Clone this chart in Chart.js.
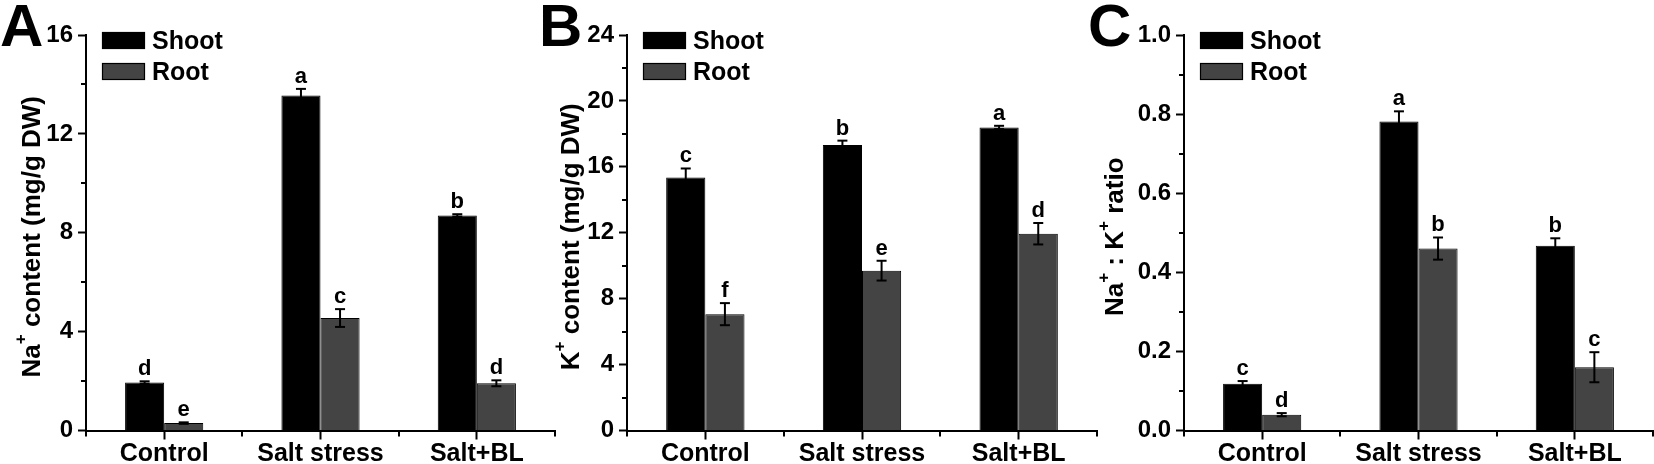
<!DOCTYPE html>
<html>
<head>
<meta charset="utf-8">
<script src="https://cdn.jsdelivr.net/npm/chart.js@4.4.1/dist/chart.umd.min.js"></script>
<style>
html,body{margin:0;padding:0;background:#fff;}
body{width:1654px;height:464px;position:relative;overflow:hidden;}
canvas{position:absolute;top:0;}
.plabel{position:absolute;font-family:"Liberation Sans",Arial,sans-serif;font-weight:bold;font-size:60px;line-height:1;color:#000;}
</style>
</head>
<body>
<div class="plabel" style="left:0px;top:-4px">A</div>
<div class="plabel" style="left:539px;top:-4px">B</div>
<div class="plabel" style="left:1088px;top:-4px">C</div>
<canvas id="cA" width="560" height="464" style="left:0px"></canvas>
<canvas id="cB" width="562" height="464" style="left:540px"></canvas>
<canvas id="cC" width="564" height="464" style="left:1090px"></canvas>
<script>
// ---------------- DATA ----------------
const categories = ['Control', 'Salt stress', 'Salt+BL'];
const seriesNames = ['Shoot', 'Root'];

// Panel A: Na+ content (mg/g DW)
const naShoot = [1.94, 13.55, 8.70];
const naShootErr = [0.05, 0.27, 0.05];
const naRoot = [0.30, 4.55, 1.91];
const naRootErr = [0.03, 0.36, 0.12];
const naShootLetters = ['d', 'a', 'b'];
const naRootLetters = ['e', 'c', 'd'];
const naTicks = [0, 4, 8, 12, 16];

// Panel B: K+ content (mg/g DW)
const kShoot = [15.35, 17.32, 18.39];
const kShootErr = [0.55, 0.27, 0.10];
const kRoot = [7.06, 9.70, 11.94];
const kRootErr = [0.67, 0.60, 0.65];
const kShootLetters = ['c', 'b', 'a'];
const kRootLetters = ['f', 'e', 'd'];
const kTicks = [0, 4, 8, 12, 16, 20, 24];

// Panel C: Na+ : K+ ratio
const ratioShoot = [0.118, 0.781, 0.467];
const ratioShootErr = [0.007, 0.026, 0.019];
const ratioRoot = [0.040, 0.460, 0.160];
const ratioRootErr = [0.004, 0.028, 0.038];
const ratioShootLetters = ['c', 'a', 'b'];
const ratioRootLetters = ['d', 'b', 'c'];
const ratioTicks = [0.0, 0.2, 0.4, 0.6, 0.8, 1.0];

// Axis titles (segments; sup = superscript)
const titleA = [{t:'Na'},{t:'+',sup:true},{t:' content (mg/g DW)'}];
const titleB = [{t:'K'},{t:'+',sup:true},{t:' content (mg/g DW)'}];
const titleC = [{t:'Na'},{t:'+',sup:true},{t:' : K'},{t:'+',sup:true},{t:' ratio'}];

// ---------------- STYLE / DRAW ----------------
const FONT = '"Liberation Sans", Arial, Helvetica, sans-serif';
const SHOOT_COLOR = '#000000';
const ROOT_COLOR = '#444444';

const decor = {
  id: 'decor',
  afterDraw(chart) {
    const o = chart.options.plugins.decor;
    const ctx = chart.ctx;
    const xs = chart.scales.x, ys = chart.scales.y;
    const area = chart.chartArea;
    ctx.save();
    ctx.strokeStyle = '#000';
    ctx.fillStyle = '#000';
    ctx.lineWidth = 2;
    ctx.lineCap = 'butt';
    const line = (x1,y1,x2,y2) => { ctx.beginPath(); ctx.moveTo(x1,y1); ctx.lineTo(x2,y2); ctx.stroke(); };

    // minor y ticks
    const tv = ys.ticks.map(t => t.value);
    for (let i = 0; i < tv.length - 1; i++) {
      const py = Math.round(ys.getPixelForValue((tv[i] + tv[i+1]) / 2));
      line(area.left - 5, py, area.left, py);
    }
    // x ticks at category boundaries
    const n = chart.data.labels.length;
    for (let i = 0; i <= n; i++) {
      const px = Math.round(xs.getPixelForValue(i - 0.5));
      line(px, area.bottom, px, area.bottom + 6);
    }

    // error bars + significance letters
    ctx.font = 'bold 22px ' + FONT;
    ctx.textAlign = 'center';
    ctx.textBaseline = 'alphabetic';
    chart.data.datasets.forEach((ds, di) => {
      const meta = chart.getDatasetMeta(di);
      meta.data.forEach((bar, i) => {
        const v = ds.data[i], e = ds.errors[i];
        const yt = ys.getPixelForValue(v + e);
        const yb = ys.getPixelForValue(v - e);
        const bx = bar.x;
        ctx.lineWidth = 2;
        line(bx, yt, bx, yb);
        line(bx - 5, yt, bx + 5, yt);
        line(bx - 5, yb, bx + 5, yb);
        ctx.fillText(ds.letters[i], bx, yt - 6);
      });
    });

    // legend
    const lx = area.left + 16;
    chart.data.datasets.forEach((ds, di) => {
      const by = area.top - 3 + di * 31;
      ctx.fillStyle = ds.backgroundColor;
      ctx.fillRect(lx, by, 43, 17);
      ctx.lineWidth = 1.2;
      ctx.strokeStyle = '#000';
      ctx.strokeRect(lx + 0.5, by + 0.5, 42, 16);
      ctx.fillStyle = '#000';
      ctx.font = 'bold 25px ' + FONT;
      ctx.textAlign = 'left';
      ctx.fillText(ds.label, lx + 50, by + 17);
    });

    // y-axis title with superscripts
    const fs = 26, sfs = 17;
    const segs = o.title;
    let total = 0;
    const widths = segs.map(s => {
      ctx.font = 'bold ' + (s.sup ? sfs : fs) + 'px ' + FONT;
      const w = ctx.measureText(s.t).width;
      total += w;
      return w;
    });
    ctx.translate(o.titleX, (area.top + area.bottom) / 2 + 4);
    ctx.rotate(-Math.PI / 2);
    ctx.textAlign = 'left';
    let cx = -total / 2;
    segs.forEach((s, i) => {
      ctx.font = 'bold ' + (s.sup ? sfs : fs) + 'px ' + FONT;
      ctx.fillText(s.t, cx, s.sup ? 9 - 14 : 9);
      cx += widths[i];
    });
    ctx.restore();
  }
};

function makeChart(id, shoot, shootErr, shootLet, root, rootErr, rootLet, ticks, fmt, yW, padR, titleSegs, titleX) {
  return new Chart(document.getElementById(id), {
    type: 'bar',
    data: {
      labels: categories,
      datasets: [
        { label: seriesNames[0], data: shoot, errors: shootErr, letters: shootLet,
          backgroundColor: SHOOT_COLOR, borderColor: '#000', borderWidth: 1,
          categoryPercentage: 0.5, barPercentage: 1.0 },
        { label: seriesNames[1], data: root, errors: rootErr, letters: rootLet,
          backgroundColor: ROOT_COLOR, borderColor: '#000', borderWidth: 1,
          categoryPercentage: 0.5, barPercentage: 1.0 }
      ]
    },
    options: {
      responsive: false,
      animation: false,
      devicePixelRatio: 1,
      layout: { padding: { top: 35, right: padR, bottom: 0, left: 0 } },
      plugins: {
        legend: { display: false },
        tooltip: { enabled: false },
        decor: { title: titleSegs, titleX: titleX }
      },
      scales: {
        x: {
          offset: true,
          grid: { display: true, drawOnChartArea: false, drawTicks: true, tickLength: 9,
                  tickWidth: 2, tickColor: '#000', offset: false },
          border: { display: true, color: '#000', width: 2 },
          ticks: { color: '#000', font: { family: FONT, size: 25, weight: 'bold' },
                   padding: 0, maxRotation: 0, autoSkip: false },
          afterFit: s => { s.height = 33.5; }
        },
        y: {
          min: ticks[0], max: ticks[ticks.length - 1],
          afterBuildTicks: s => { s.ticks = ticks.map(v => ({ value: v })); },
          grid: { display: true, drawOnChartArea: false, drawTicks: true, tickLength: 8,
                  tickWidth: 2, tickColor: '#000' },
          border: { display: true, color: '#000', width: 2 },
          ticks: { color: '#000', font: { family: FONT, size: 24, weight: 'bold' },
                   padding: 5, callback: v => fmt(v) },
          afterFit: s => { s.width = yW; }
        }
      }
    },
    plugins: [decor]
  });
}

makeChart('cA', naShoot, naShootErr, naShootLetters, naRoot, naRootErr, naRootLetters,
          naTicks, v => String(v), 86, 5, titleA, 31);
makeChart('cB', kShoot, kShootErr, kShootLetters, kRoot, kRootErr, kRootLetters,
          kTicks, v => String(v), 87, 5, titleB, 30);
makeChart('cC', ratioShoot, ratioShootErr, ratioShootLetters, ratioRoot, ratioRootErr, ratioRootLetters,
          ratioTicks, v => Number(v).toFixed(1), 94, 1, titleC, 24);
</script>
</body>
</html>
